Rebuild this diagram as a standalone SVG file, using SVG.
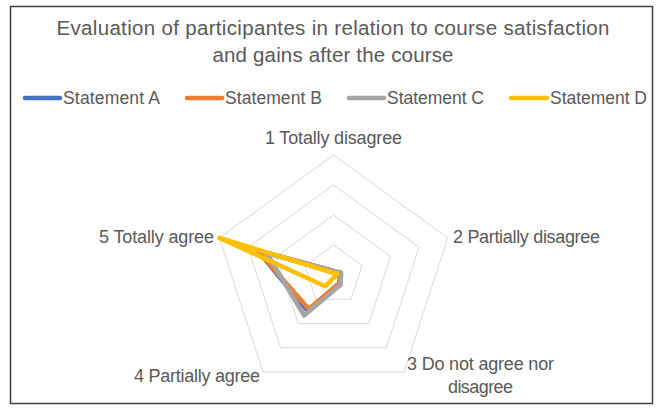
<svg xmlns="http://www.w3.org/2000/svg" width="659" height="409" viewBox="0 0 659 409">
<style>
text{font-family:"Liberation Sans",Arial,sans-serif;fill:#595959}
.title{font-size:20.5px}
.leg{font-size:17.5px}
.lbl{font-size:18px}
.grid{fill:none;stroke:#d9d9d9;stroke-width:1}
.ser{fill:none;stroke-width:4.5;stroke-linejoin:round;stroke-linecap:round}
.legline{stroke-width:4.5;stroke-linecap:round}
</style>
<rect x="10.5" y="6.5" width="642" height="397" fill="#ffffff" stroke="#404040" stroke-width="1.5"/>
<g id="title">
<text class="title" x="333" y="35" text-anchor="middle" textLength="553">Evaluation of participantes in relation to course satisfaction</text>
<text class="title" x="333" y="62" text-anchor="middle" textLength="241">and gains after the course</text>
</g>
<g id="legend">
<g id="legend-a"><line class="legline" x1="25" y1="98" x2="60" y2="98" stroke="#4472C4"/><text class="leg" x="63" y="104" textLength="97">Statement A</text></g>
<g id="legend-b"><line class="legline" x1="187" y1="98" x2="222" y2="98" stroke="#ED7D31"/><text class="leg" x="225" y="104" textLength="97">Statement B</text></g>
<g id="legend-c"><line class="legline" x1="349" y1="98" x2="384" y2="98" stroke="#A5A5A5"/><text class="leg" x="387" y="104" textLength="97">Statement C</text></g>
<g id="legend-d"><line class="legline" x1="511" y1="98" x2="547" y2="98" stroke="#FFC000"/><text class="leg" x="550" y="104" textLength="97">Statement D</text></g>
</g>
<g id="grid">
<polygon class="grid" points="333.5,155 447.63,237.92 404.03,372.08 262.97,372.08 219.37,237.92"/>
<polygon class="grid" points="333.5,185 419.10,247.19 386.40,347.81 280.60,347.81 247.90,247.19"/>
<polygon class="grid" points="333.5,215 390.56,256.46 368.77,323.54 298.23,323.54 276.44,256.46"/>
<polygon class="grid" points="333.5,245 362.03,265.73 351.13,299.27 315.87,299.27 304.97,265.73"/>
</g>
<g id="axis-labels">
<g id="label-1"><text class="lbl" x="333.5" y="144" text-anchor="middle" textLength="137">1 Totally disagree</text></g>
<g id="label-2"><text class="lbl" x="453" y="243" textLength="147">2 Partially disagree</text></g>
<g id="label-3"><text class="lbl" x="480.5" y="370" text-anchor="middle" textLength="147">3 Do not agree nor</text><text class="lbl" x="480.5" y="393" text-anchor="middle" textLength="65">disagree</text></g>
<g id="label-4"><text class="lbl" x="197" y="382" text-anchor="middle" textLength="126">4 Partially agree</text></g>
<g id="label-5"><text class="lbl" x="214" y="242.5" text-anchor="end" textLength="115">5 Totally agree</text></g>
</g>
<g id="series">
<polygon id="series-a" class="ser" stroke="#4472C4" points="333.5,271 339.2,273.1 339.4,283.1 307.4,310.8 257.4,250.3"/>
<polygon id="series-b" class="ser" stroke="#ED7D31" points="333.5,271 339.2,273.1 339.4,283.1 308.8,309 257.4,250.3"/>
<polygon id="series-c" class="ser" stroke="#A5A5A5" points="333.5,271 341.1,272.5 340.6,284.7 304.1,315.5 266.9,253.4"/>
<polygon id="series-d" class="ser" stroke="#FFC000" points="333.5,273 337.3,273.8 334.7,276.6 325.3,286.3 219.4,237.9"/>
</g>
</svg>
